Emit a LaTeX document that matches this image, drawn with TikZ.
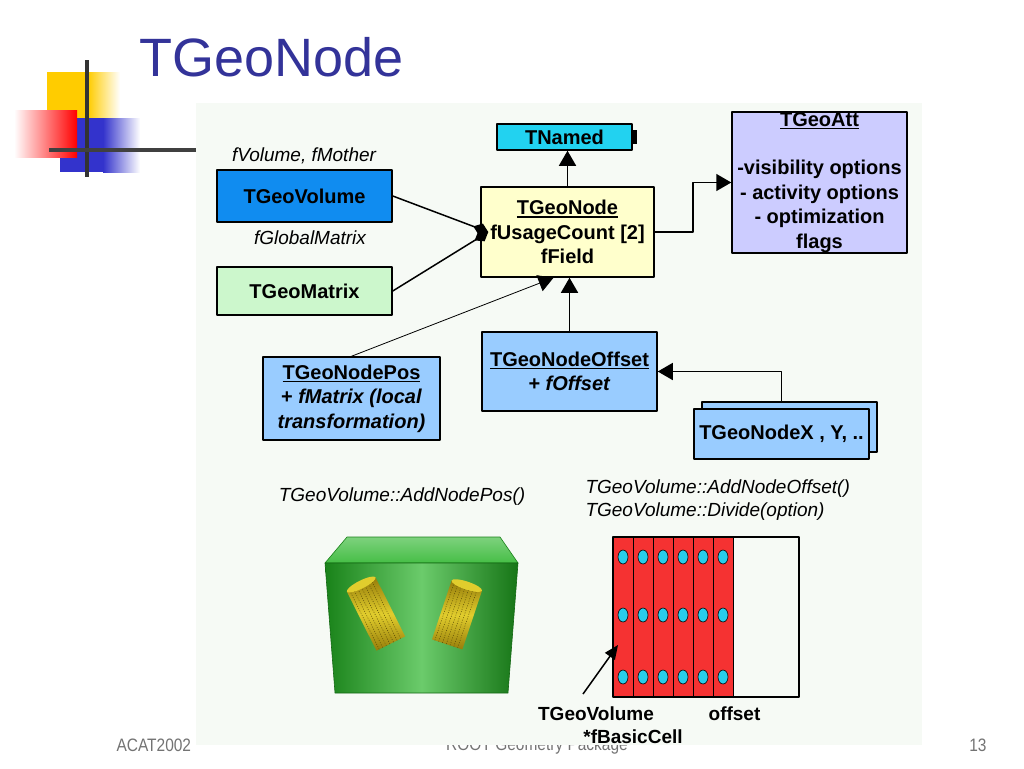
\documentclass[tikz,border=0pt]{standalone}
\usepackage{fontspec}
\setmainfont{Liberation Sans}
\newfontfamily\footfont[FakeStretch=0.86]{Liberation Sans}
\usetikzlibrary{arrows.meta,positioning}
\definecolor{titleblue}{RGB}{51,51,153}
\definecolor{panelbg}{RGB}{246,250,245}
\definecolor{namedfill}{RGB}{34,210,240}
\definecolor{volfill}{RGB}{16,140,240}
\definecolor{matfill}{RGB}{204,247,204}
\definecolor{nodefill}{RGB}{255,255,204}
\definecolor{attfill}{RGB}{204,204,255}
\definecolor{posfill}{RGB}{153,204,255}
\definecolor{cellred}{RGB}{245,50,50}
\definecolor{holecyan}{RGB}{40,205,235}
\definecolor{boxgreen}{RGB}{70,190,70}
\definecolor{boxdark}{RGB}{25,130,25}
\definecolor{cylyellow}{RGB}{225,205,45}
\definecolor{cyldark}{RGB}{150,125,10}
\definecolor{logogold}{RGB}{255,204,0}
\definecolor{logoblue}{RGB}{51,51,204}
\newcommand{\ulin}[1]{\setbox0\hbox{#1}\leavevmode\rlap{\rule[-3pt]{\wd0}{1.3pt}}\box0}
\tikzset{
  cls/.style={draw, line width=1.5pt, align=center, inner sep=0pt,
    font=\bfseries\fontsize{20}{24.5}\selectfont},
  lbl/.style={font=\itshape\fontsize{19}{23}\selectfont},
  blbl/.style={font=\bfseries\fontsize{19}{23}\selectfont},
  inh/.style={line width=1.5pt, -{Triangle[length=15pt,width=17pt]}},
  agg/.style={line width=1.5pt, -{Diamond[length=16pt,width=12pt]}},
}
\begin{document}
\begin{tikzpicture}[x=1pt, y=-1pt, line join=round]
\useasboundingbox (0,0) rectangle (1024,768);
\fill[white] (0,0) rectangle (1024,768);
% footer
\node[anchor=base, text=black!55, font=\footfont\fontsize{18}{20}\selectfont] (foot) at (537,750) {ROOT Geometry Package};
\node[anchor=base west, text=black!55, font=\footfont\fontsize{18}{20}\selectfont] (conf) at (113,751) {ACAT2002};
\node[anchor=base east, text=black!55, font=\footfont\fontsize{18}{20}\selectfont] (page) at (990,751) {13};
% panel
\fill[panelbg] (196,103) rectangle (922,745);
% logo
\fill[logogold] (47,72) rectangle (88,118);
\shade[left color=logogold, right color=white] (88,72) rectangle (120,118);
\fill[logoblue] (60,118) rectangle (103,172);
\shade[left color=logoblue, right color=white] (103,118) rectangle (140,172);
\shade[left color=white, right color=red] (14,110) rectangle (77,157);
\draw[line width=4pt, black!80] (87,60) -- (87,177);
\draw[line width=4pt, black!75] (49,150) -- (196,150);
% title
\node[anchor=base west, text=titleblue, font=\fontsize{54}{60}\selectfont] (title) at (136,77) {TGeoNode};
% classes
\node[cls, fill=namedfill, minimum width=135, minimum height=26] (nm) at (564.5,137) {TNamed};
\fill (nm.east) ++(0,-7) rectangle ++(4,14);
\node[cls, fill=volfill, minimum width=175, minimum height=52] (vol) at (304.5,196) {TGeoVolume};
\node[cls, fill=matfill, minimum width=175, minimum height=48] (mat) at (304.5,291) {TGeoMatrix};
\node[cls, fill=nodefill, minimum width=173, minimum height=90] (nd) at (567.5,232) {\ulin{TGeoNode}\\fUsageCount [2]\\fField};
\node[cls, fill=attfill, minimum width=175, minimum height=141] (att) at (819.5,182.5) {\ulin{TGeoAtt}\\[24pt]-visibility options\\- activity options\\- optimization\\flags};
\node[cls, fill=posfill, minimum width=177, minimum height=83] (pos) at (351.5,398.5) {\ulin{TGeoNodePos}\\+ \textit{fMatrix (local}\\\textit{transformation)}};
\node[cls, fill=posfill, minimum width=175, minimum height=79] (off) at (569.5,371.5) {\ulin{TGeoNodeOffset}\\+ \textit{fOffset}};
\node[cls, fill=posfill, minimum width=175, minimum height=50] (nxb) at (789.5,427) {};
\node[cls, fill=posfill, minimum width=175, minimum height=50] (nx) at (781.5,434) {TGeoNodeX , Y, ..};
% member labels
\node[lbl] (mvol) at (304,156) {fVolume, fMother};
\node[lbl] (mglob) at (310,238) {fGlobalMatrix};
% connectors
\draw[inh] (nd.north) -- (nd.north |- nm.south);
\draw[agg] (vol.east) -- ([xshift=8pt]nd.west);
\draw[agg] (mat.east) -- ([xshift=8pt]nd.west);
\draw[inh] (nd.east) -- ++(38,0) |- (att.west);
\draw[inh] (off.north) -- (off.north |- nd.south);
\draw[line width=0.8pt, -{Triangle[length=15pt,width=17pt]}] (pos.north) -- ([xshift=-14pt]nd.south);
\draw[inh] (nx.north |- nxb.north) |- (off.east);
% method labels
\node[lbl] (mpos) at (402,497) {TGeoVolume::AddNodePos()};
\node[lbl, anchor=west, align=left] (moff) at (582,500.5) {TGeoVolume::AddNodeOffset()\\TGeoVolume::Divide(option)};
% green volume with two positioned tubes
\shade[top color=boxgreen!70!white, bottom color=boxgreen, draw=boxdark, line width=0.6pt] (347,537) -- (500,537) -- (518,563) -- (325,563) -- cycle;
\shade[left color=boxdark, right color=boxdark!90!black, middle color=boxgreen!80!white, draw=boxdark!80!black, line width=0.6pt] (325,563) -- (518,563) -- (508,693) -- (335,693) -- cycle;
\foreach \cx/\cy/\ang/\len in {376/614/116.6/33, 457/615/71.6/31}{
  \begin{scope}[shift={(\cx,\cy)}, rotate=\ang]
    \shade[top color=cyldark, bottom color=cyldark, middle color=cylyellow] (-\len,-16) rectangle (\len,16);
    \foreach \k in {-13,-9,...,13}
      \draw[cyldark!60!black, line width=0.5pt, dash pattern=on 1pt off 1.5pt] (-\len,\k) -- (\len,\k);
    \fill[cylyellow] (\len,0) ellipse [x radius=4, y radius=16];
  \end{scope}
}
% divided volume
\fill[cellred] (613,537) rectangle (733,697);
\foreach \i in {1,...,6}
  \draw[line width=1pt] (613+20*\i,537) -- ++(0,160);
\foreach \i in {0,...,5}
  \foreach \yy in {557,615,677}
    \filldraw[fill=holecyan, draw=black, line width=0.6pt] (623+20*\i,\yy) ellipse [x radius=5, y radius=7];
\draw[line width=1.5pt] (613,537) rectangle (799,697);
\coordinate (cellpt) at (618,645);
\coordinate (tail) at (583,694);
\draw[line width=1.5pt, -{Triangle[length=14pt,width=12pt]}] (tail) -- (cellpt);
\node[blbl] (bcell) at (596,714) {TGeoVolume};
\node[blbl] (bcell2) at (633,737) {*fBasicCell};
\node[blbl] (boff) at (734.5,714) {offset};
\end{tikzpicture}
\end{document}
